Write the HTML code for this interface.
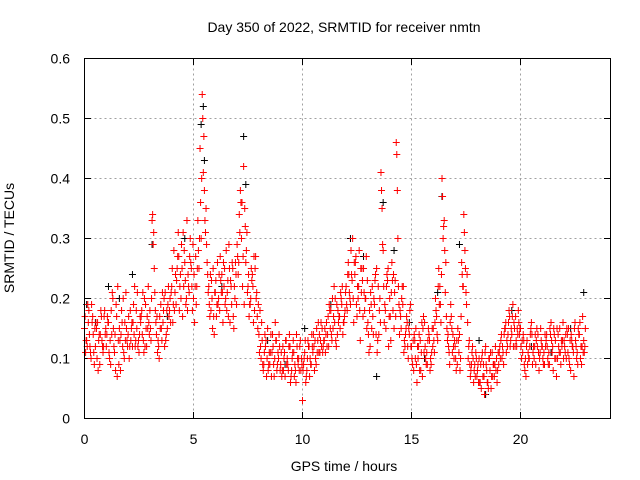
<!DOCTYPE html>
<html><head><meta charset="utf-8"><style>
body{margin:0;background:#fff;}
svg{display:block;font-family:"Liberation Sans",sans-serif;}
</style></head><body>
<svg id="chart" width="640" height="480">
<text x="344" y="32" font-size="14" text-anchor="middle">Day 350 of 2022, SRMTID for receiver nmtn</text>
<text x="344" y="471" font-size="14" text-anchor="middle">GPS time / hours</text>
<text transform="translate(14,238) rotate(-90)" font-size="14" text-anchor="middle">SRMTID / TECUs</text>
<g id="grid"></g><g id="marks"></g>
<rect x="84.5" y="58.5" width="526" height="360" fill="none" stroke="#000"/>
</svg>
<script>
const xTicks=[0,5,10,15,20];
const yTicks=[0,0.1,0.2,0.3,0.4,0.5,0.6];
// red series values in hundredths of TECU, sampled every 0.1 h from 0
const redA=[15,13,18,10,14,12,16,9,13,17, 12,16,9,20,14,7,15,18,11,21, 14,18,12,22,15,11,17,13,19,15, 18,33,25,14,12,19,16,21,15,18,
22,28,19,31,24,17,26,33,21,25, 20,27,33,45,54,38,29,22,18,25, 21,26,18,24,22,28,17,23,25,20, 29,34,30,42,26,22,19,24,18,21,
14,10,8,12,15,9,11,7,13,10, 9,12,7,10,14,8,11,6,9,13, 3,11,8,12,9,14,10,13,11,15, 13,16,12,18,15,20,14,17,19,16,
22,26,19,30,24,17,28,21,25,20, 16,12,22,19,25,14,41,28,18,23, 20,26,15,46,22,17,19,12,16,14, 12,8,15,10,13,7,16,11,14,9,
15,20,13,22,40,33,17,12,19,14, 12,9,14,26,34,21,10,7,12,9, 7,10,5,9,12,6,8,11,7,10, 9,13,11,15,12,17,14,16,13,18,
15,11,8,13,10,16,12,9,14,11, 12,9,14,11,16,8,13,10,15,12, 13,10,15,8,12,16,11,14,9,13];
// offset 0.05 h
const redB=[11,19,12,16,9,15,13,18,11,14, 17,10,14,12,19,13,8,12,16,13, 10,15,19,13,12,17,14,20,12,16, 13,29,18,11,17,13,20,14,22,16,
16,21,25,18,29,22,19,24,30,18, 16,22,25,30,41,31,24,17,20,14, 17,20,23,16,19,21,25,19,15,24, 24,38,22,35,31,17,25,16,27,15,
18,13,11,7,9,14,12,16,9,12, 7,10,13,8,6,11,9,12,8,10, 9,6,13,10,12,8,15,11,16,12, 11,14,18,13,22,12,16,21,14,18,
18,21,24,16,27,20,13,23,18,15, 11,19,14,24,13,20,35,16,22,12, 13,18,23,38,14,20,11,15,10,19, 9,13,6,14,11,17,10,13,8,15,
11,17,25,16,30,21,13,9,15,10, 8,13,10,22,28,24,13,9,6,11, 9,6,11,4,8,10,5,9,12,8, 12,10,14,11,16,13,19,12,15,14,
10,13,7,11,14,9,12,15,8,13, 9,12,10,15,11,14,7,12,9,16, 11,14,9,13,7,12,15,10,17,12];
// offset 0.025 h
const redC=[17,12,14,19,11,16,8,14,12,18, 14,11,18,15,8,22,13,16,10,15, 17,13,16,12,21,14,18,11,15,22, 15,34,21,17,10,15,18,13,19,20,
25,18,23,27,20,31,23,18,27,22, 24,19,28,36,50,33,26,19,23,17, 23,19,27,21,25,18,29,22,17,26, 27,31,36,19,28,24,20,22,25,17,
11,16,9,13,8,11,14,10,8,14, 11,8,13,9,12,10,7,14,10,8, 8,13,10,7,14,12,9,16,13,11, 15,12,19,14,17,13,18,15,22,17,
19,24,28,20,26,22,18,25,21,27, 14,21,17,23,11,18,38,22,15,25, 17,23,21,44,19,15,22,14,12,18, 10,14,9,12,8,15,12,9,13,11,
13,18,22,19,37,28,15,11,17,12, 10,15,8,24,31,19,12,8,10,7, 8,6,10,7,9,5,11,7,9,6, 11,14,9,16,14,12,17,15,12,16,
12,14,10,9,12,14,10,13,11,15, 10,14,12,9,13,15,10,14,11,13, 12,15,10,14,11,13,9,16,12,11];
// offset 0.075 h
const redD=[13,16,11,17,15,10,14,17,12,15, 16,13,21,11,17,9,14,20,13,12, 12,16,14,18,13,16,21,12,17,14, 20,31,16,13,15,21,12,18,17,21,
19,24,27,22,25,28,20,22,26,29, 22,25,30,40,47,35,21,24,15,21, 19,24,21,26,20,23,16,26,22,19, 26,36,27,32,21,19,23,27,20,19,
12,9,14,10,11,7,9,13,11,8, 8,11,9,12,7,13,8,10,12,9, 10,7,12,9,11,13,11,14,12,13, 14,17,15,20,16,19,17,20,16,21,
24,20,23,26,19,22,25,17,20,23, 18,15,20,14,22,16,29,19,24,17, 21,24,17,30,18,22,13,17,15,12, 13,10,12,8,16,11,9,15,10,12,
16,14,19,24,32,26,14,16,11,13, 13,11,17,22,25,16,9,11,8,10, 6,9,7,11,6,10,7,9,8,11, 10,12,15,13,18,15,12,17,14,15,
13,9,12,10,15,11,14,12,10,12, 11,13,9,14,12,10,15,11,13,10, 14,11,13,12,15,10,14,12,11,15];
const blackT=[0.1,0.5,1.1,1.6,2.2,3.1,3.8,4.6,5.35,5.45,5.5,6.3,7.3,7.4,8.4,9.2,10.1,11.3,12.2,12.8,13.4,13.7,14.2,14.9,15.6,16.2,16.4,17.2,18.1,18.4,19.6,20.5,21.4,22.3,22.9];
const blackV=[19,16,22,20,24,29,17,30,49,52,43,22,47,39,13,9,15,19,30,27,7,36,28,16,10,21,37,29,13,4,18,12,11,15,21];
const x0=84.5,xPerH=21.8,y0=418.5,yPerU=600;
const X=t=>x0+t*xPerH, Y=v=>y0-v*yPerU;
const NS="http://www.w3.org/2000/svg";
const grid=document.getElementById('grid'),marks=document.getElementById('marks');
function mk(tag,attrs,parent){const e=document.createElementNS(NS,tag);for(const k in attrs)e.setAttribute(k,attrs[k]);parent.appendChild(e);return e;}
xTicks.forEach(t=>{const x=X(t);
 const g=mk('line',{x1:x,x2:x,y1:58.5,y2:418.5,stroke:'#a0a0a0','stroke-dasharray':'2,3'},grid);
 
 
 mk('line',{x1:x,x2:x,y1:418.5,y2:412,stroke:'#000'},grid);
 mk('line',{x1:x,x2:x,y1:58.5,y2:65,stroke:'#000'},grid);
 const l=mk('text',{x:x,y:444,'font-size':14,'text-anchor':'middle'},grid);l.textContent=t;
 
 });
yTicks.forEach(v=>{const y=Y(v);
 const g=mk('line',{x1:84.5,x2:610.5,y1:y,y2:y,stroke:'#a0a0a0','stroke-dasharray':'2,3'},grid);
 
 
 mk('line',{x1:84.5,x2:91,y1:y,y2:y,stroke:'#000'},grid);
 mk('line',{x1:610.5,x2:604,y1:y,y2:y,stroke:'#000'},grid);
 const l=mk('text',{x:70,y:y+5,'font-size':14,'text-anchor':'end'},grid);l.textContent=v===0?'0':String(v);
 
 });
function cross(t,v,col,name){const x=X(t),y=Y(v);
 const p=mk('path',{d:`M${x-3.5} ${y}H${x+3.5}M${x} ${y-3.5}V${y+3.5}`,stroke:col,'stroke-width':1,fill:'none'},marks);
 
 }
blackT.forEach((t,i)=>cross(t,blackV[i]/100,'#000','black-point'));
redA.forEach((v,i)=>cross(i*0.1,v/100,'#f00','red-point'));
redB.forEach((v,i)=>cross(i*0.1+0.05,v/100,'#f00','red-point'));
redC.forEach((v,i)=>cross(i*0.1+0.025,v/100,'#f00','red-point'));
redD.forEach((v,i)=>cross(i*0.1+0.075,v/100,'#f00','red-point'));
</script>
</body></html>
